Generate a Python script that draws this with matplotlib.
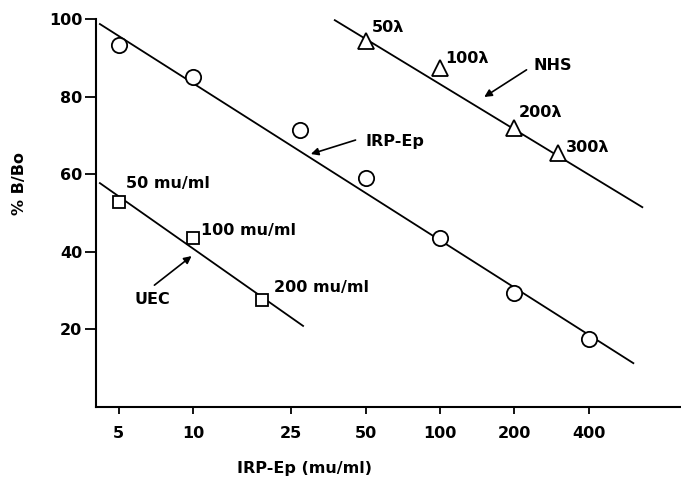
"""Competitive binding curves: % B/Bo against IRP-Ep dose (log scale)."""

import matplotlib
matplotlib.use("Agg")
import matplotlib.pyplot as plt
from matplotlib.ticker import FixedLocator, NullLocator

# IRP-Ep standard (circles)
irp_x = [5, 10, 27, 50, 100, 200, 400]
irp_y = [93.3, 85.0, 71.4, 59.0, 43.6, 29.4, 17.5]
irp_fit_x = [4.2, 606]
irp_fit_y = [98.7, 11.3]

# NHS dilutions (triangles)
nhs_x = [50, 100, 200, 300]
nhs_y = [94.3, 87.4, 71.9, 65.5]
nhs_labels = ["50λ", "100λ", "200λ", "300λ"]
nhs_fit_x = [37.5, 659]
nhs_fit_y = [99.7, 51.5]

# UEC (squares)
uec_x = [5, 10, 19]
uec_y = [52.8, 43.6, 27.6]
uec_labels = ["50 mu/ml", "100 mu/ml", "200 mu/ml"]
uec_fit_x = [4.2, 27.9]
uec_fit_y = [57.7, 20.9]

xticks = [5, 10, 25, 50, 100, 200, 400]
yticks = [20, 40, 60, 80, 100]

plt.rcParams["font.family"] = ["DejaVu Sans"]
plt.rcParams["font.weight"] = "bold"

fig = plt.figure(figsize=(6.81, 4.82), dpi=100)
ax = fig.add_axes([96 / 681, 1 - 407 / 482, 585 / 681, 388 / 482])

line_kw = dict(color="black", lw=1.3)
ax.plot(irp_fit_x, irp_fit_y, **line_kw)
ax.plot(nhs_fit_x, nhs_fit_y, **line_kw)
ax.plot(uec_fit_x, uec_fit_y, **line_kw)

mk = dict(ls="none", mfc="white", mec="black", mew=1.3, zorder=3)
ax.plot(irp_x, irp_y, marker="o", ms=11, **mk)
ax.plot(nhs_x, nhs_y, marker="^", ms=11, **mk)
ax.plot(uec_x, uec_y, marker="s", ms=9, **mk)

fs = 11.5
# point labels
nhs_pos = [(53, 97.9), (105, 89.9), (208, 75.8), (322, 67.0)]
for (tx, ty), lab in zip(nhs_pos, nhs_labels):
    ax.text(tx, ty, lab, fontsize=fs, fontweight="bold", ha="left", va="center")
uec_pos = [(5.38, 57.7), (10.8, 45.6), (21.2, 30.7)]
for (tx, ty), lab in zip(uec_pos, uec_labels):
    ax.text(tx, ty, lab, fontsize=fs, fontweight="bold", ha="left", va="center")

# curve names with arrows
arrow = dict(arrowstyle="-|>", color="black", lw=1.2, mutation_scale=11, shrinkA=0, shrinkB=0)
ax.text(49.7, 68.3, "IRP-Ep", fontsize=fs, fontweight="bold", ha="left", va="center")
ax.annotate("", xy=(30.0, 65.2), xytext=(45.5, 68.8), arrowprops=arrow)
ax.text(238, 88.1, "NHS", fontsize=fs, fontweight="bold", ha="left", va="center")
ax.annotate("", xy=(151, 79.9), xytext=(224, 86.9), arrowprops=arrow)
ax.text(5.8, 27.8, "UEC", fontsize=fs, fontweight="bold", ha="left", va="center")
ax.annotate("", xy=(9.87, 38.9), xytext=(6.98, 31.4), arrowprops=arrow)

ax.set_xscale("log")
ax.set_xlim(4.05, 945)
ax.set_ylim(0, 100)
ax.xaxis.set_major_locator(FixedLocator(xticks))
ax.xaxis.set_minor_locator(NullLocator())
ax.set_xticklabels([str(v) for v in xticks])
ax.set_yticks(yticks)
ax.set_yticklabels([str(v) for v in yticks])
ax.tick_params(axis="both", direction="out", width=1.3, labelsize=fs)
ax.tick_params(axis="x", length=5, pad=9)
ax.tick_params(axis="y", length=8, pad=2)
for lab in ax.get_xticklabels() + ax.get_yticklabels():
    lab.set_fontweight("bold")

for side in ("top", "right"):
    ax.spines[side].set_visible(False)
for side in ("left", "bottom"):
    ax.spines[side].set_linewidth(1.5)

ax.set_xlabel("IRP-Ep (mu/ml)", fontsize=fs, fontweight="bold")
ax.set_ylabel("% B/Bo", fontsize=fs, fontweight="bold")
ax.xaxis.set_label_coords(0.357, -0.14)
ax.yaxis.set_label_coords(-0.118, 0.577)

fig.savefig("out.png", dpi=100)
plt.close(fig)
